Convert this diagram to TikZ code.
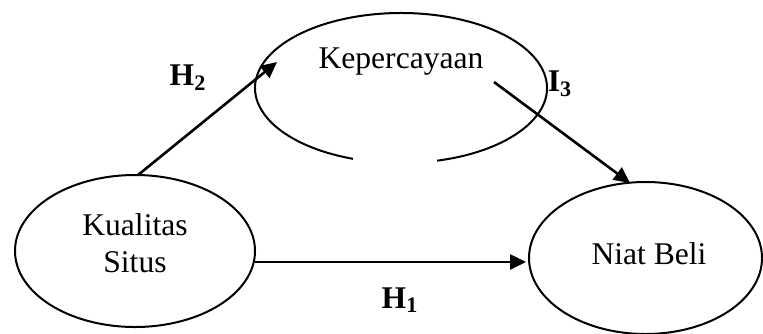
\documentclass[tikz,border=0pt]{standalone}
\usepackage{fontspec}
\setmainfont{Liberation Serif}
\usetikzlibrary{shapes.geometric,arrows.meta}
\begin{document}
\begin{tikzpicture}[x=0.5pt,y=-0.5pt,
  construct/.style={draw,ellipse,line width=1pt,inner sep=0pt},
  lbl/.style={font=\fontsize{15.8}{18.5}\selectfont,align=center,inner sep=0pt},
  hyp/.style={font=\fontsize{15.8}{18.5}\selectfont\bfseries,inner sep=0pt},
  path/.style={line width=1.3pt,-{Triangle[length=8pt,width=7.5pt]}}]
\useasboundingbox (0,0) rectangle (763,333);

% exogenous and endogenous constructs
\node[construct,minimum width=120pt,minimum height=76pt] (ks) at (135,251) {};
\node[lbl] (kstext) at (135,243) {Kualitas\\Situs};
\node[construct,minimum width=116.5pt,minimum height=76pt] (nb) at (645.5,258) {};
\node[lbl] (nbtext) at (649,254) {Niat Beli};

% mediator: open ellipse with a gap at the bottom
\coordinate (kc) at (401,88);
\draw[line width=1pt] ([shift={(284.3:146 and -75)}]kc)
  arc[start angle=284.3,end angle=610.8,x radius=146,y radius=-75];
\node[lbl] (kp) at (401,62) {Kepercayaan};

% path end points
\coordinate (h2s) at (138,175);
\coordinate (h2e) at (277,62);
\coordinate (h3s) at (494,82);
\coordinate (h3e) at (630,183);
\coordinate (h1s) at (255,262);
\coordinate (h1e) at (526,262);

\draw[path] (h2s) -- (h2e);
\draw[path] (h3s) -- (h3e);
\draw[path] (h1s) -- (h1e);

% hypothesis labels
\node[hyp] (lh2) at (188,78) {H\textsubscript{2}};
\node[hyp] (lh1) at (400,300) {H\textsubscript{1}};
\node[hyp] (lh3) at (560,84) {I\textsubscript{3}};
\end{tikzpicture}
\end{document}
